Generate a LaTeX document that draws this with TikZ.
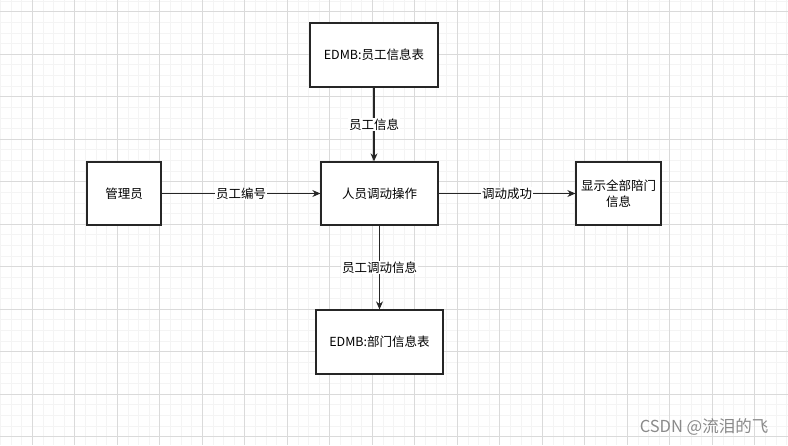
\documentclass[tikz,border=0pt]{standalone}
\usepackage{fontspec}
\setmainfont{Noto Sans CJK SC}
\usetikzlibrary{arrows.meta}
\definecolor{gridminor}{HTML}{F4F4F4}
\definecolor{gridmajor}{HTML}{DADADA}
\definecolor{wmark}{HTML}{8A8A8A}
\tikzset{
  box/.style={draw=black!85, line width=1.3pt, fill=white, inner sep=0pt, align=center, font=\fontsize{12.5}{16}\selectfont},
  conn/.style={draw=black!85, line width=1.1pt, -{Stealth[length=8pt,width=7pt]}},
  lbl/.style={fill=white, inner sep=1pt, font=\fontsize{12.5}{15}\selectfont}
}
\begin{document}
\begin{tikzpicture}[x=1pt,y=-1pt]
\useasboundingbox (0,0) rectangle (788,445);
\fill[white] (0,0) rectangle (788,445);
% grid
\foreach \k in {0,...,74} {
  \draw[gridminor, line width=0.8pt] ({0.425+10.625*\k},0) -- ({0.425+10.625*\k},445);
}
\foreach \k in {0,...,42} {
  \draw[gridminor, line width=0.8pt] (0,{1.075+10.625*\k}) -- (788,{1.075+10.625*\k});
}
\foreach \k in {0,...,18} {
  \draw[gridmajor, line width=0.8pt] ({32.3+42.5*\k},0) -- ({32.3+42.5*\k},445);
}
\foreach \k in {0,...,10} {
  \draw[gridmajor, line width=0.8pt] (0,{11.7+42.5*\k}) -- (788,{11.7+42.5*\k});
}
% nodes
\node[box, minimum width=128pt, minimum height=64pt] (top) at (374,55) {EDMB:员工信息表};
\node[box, minimum width=74pt, minimum height=63pt] (mgr) at (124,193.5) {管理员};
\node[box, minimum width=117pt, minimum height=63pt] (ctr) at (379.5,193.5) {人员调动操作};
\node[box, minimum width=85pt, minimum height=63pt] (res) at (618.5,193.5) {显示全部陪门\\信息};
\node[box, minimum width=127pt, minimum height=64pt] (bot) at (379.5,342) {EDMB:部门信息表};
% connectors
\draw[conn] (top.south) -- node[lbl] {员工信息} (top.south |- ctr.north);
\draw[conn] (mgr.east) -- node[lbl] {员工编号} (ctr.west);
\draw[conn] (ctr.east) -- node[lbl] {调动成功} (res.west);
\draw[conn] (ctr.south) -- node[lbl] {员工调动信息} (bot.north);
% watermark
\node[text=wmark, font=\fontsize{16.5}{19}\selectfont, inner sep=0pt] (wm) at (704,427) {CSDN @流泪的飞};
\end{tikzpicture}
\end{document}
